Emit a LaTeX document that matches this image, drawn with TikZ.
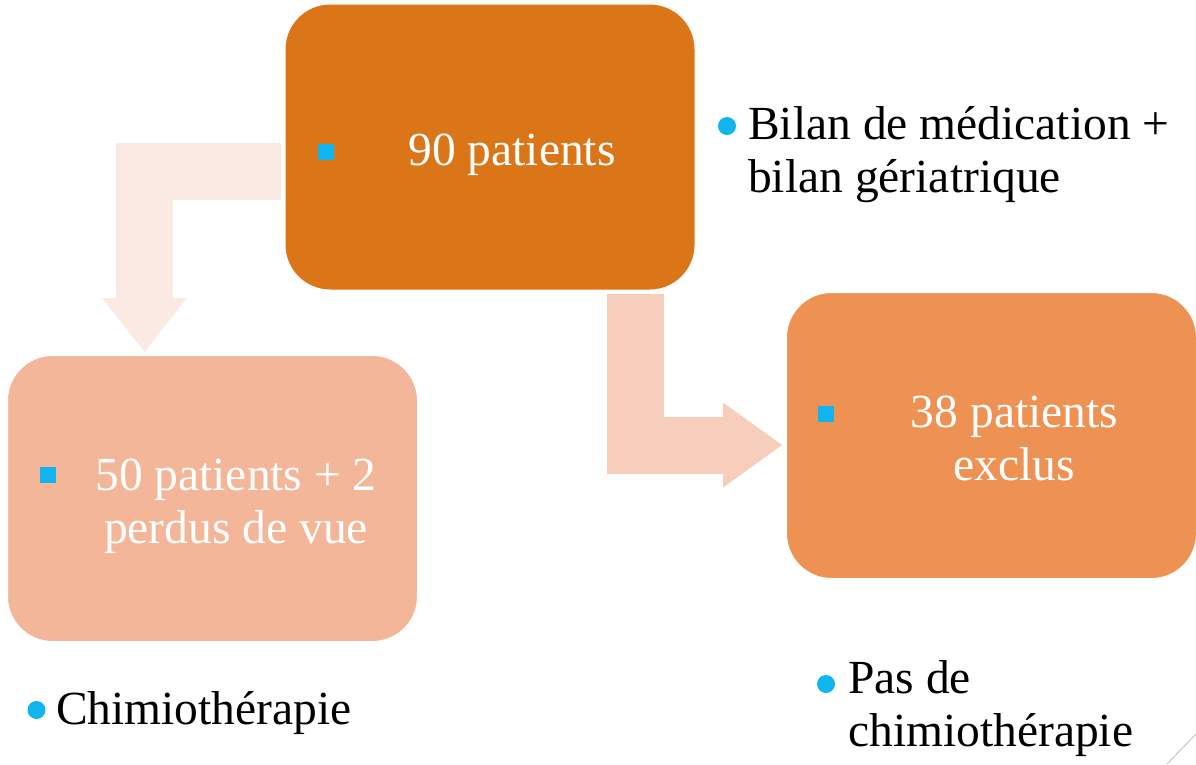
\documentclass[tikz,border=0pt]{standalone}
\usepackage{fontspec}
\setmainfont{Liberation Serif}
\usetikzlibrary{calc,arrows.meta}
\definecolor{topfill}{HTML}{DA7518}
\definecolor{leftfill}{HTML}{F4B699}
\definecolor{rightfill}{HTML}{EE9254}
\definecolor{paleleft}{HTML}{FBEAE3}
\definecolor{paleright}{HTML}{F7CDBC}
\definecolor{bullet}{HTML}{10B4EF}
\tikzset{
  box/.style={rectangle, rounded corners=45pt, draw=white, line width=1pt,
    minimum width=410pt, minimum height=286pt, inner sep=0pt},
  boxtext/.style={text=white, align=center, inner sep=0pt,
    font=\fontsize{47.5pt}{53pt}\selectfont},
  note/.style={text=black, align=left, inner sep=0pt,
    font=\fontsize{47.5pt}{53pt}\selectfont},
  sqbullet/.style={rectangle, fill=bullet, minimum size=16pt, inner sep=0pt},
  dotbullet/.style={circle, fill=bullet, minimum size=18pt, inner sep=0pt},
  blockarrow/.style={line width=57pt,
    -{Triangle[width=85pt,length=#1,line width=0pt]}},
  blockarrow/.default=56pt
}

\begin{document}
\begin{tikzpicture}[x=1pt, y=-1pt]
    \useasboundingbox (0,0) rectangle (1196,764);

    % the three boxes
    \node[box, fill=topfill] (top) at (490,147) {};
    \node[box, fill=leftfill] (chimio) at (212.5,498.5) {};
    \node[box, fill=rightfill] (exclus) at (991.5,435.5) {};

    % arrow ends
    \coordinate (la1) at ($(top.west)+(-4,24.5)$);
    \coordinate (la2) at ($(chimio.north)+(-68,-3)$);
    \coordinate (ra1) at ($(top.south)+(145,3)$);
    \coordinate (ra2) at ($(exclus.west)+(-4,9.5)$);

    % block arrows
    \draw[blockarrow=54pt, paleleft] (la1) -| (la2);
    \draw[blockarrow=59pt, paleright] (ra1) |- (ra2);

    % texts in the boxes
    \node[sqbullet] (topbul) at ($(top.west)+(41,5)$) {};
    \node[boxtext, anchor=base] (toptxt) at ($(top)+(22,18)$) {90 patients};
    \node[sqbullet] (chimiobul) at ($(chimio.west)+(40.7,-23.5)$) {};
    \node[boxtext, anchor=base] (chimiotxt) at ($(chimio)+(23.5,44.5)$)
      {50 patients + 2\\perdus de vue};
    \node[sqbullet] (exclusbul) at ($(exclus.west)+(40,-21.5)$) {};
    \node[boxtext, anchor=base] (exclustxt) at ($(exclus)+(23,44.5)$)
      {38 patients\\exclus};

    % notes beside the boxes
    \node[dotbullet] (bilanbul) at (727,126) {};
    \node[note, anchor=base west] (bilan) at (748,192)
      {Bilan de médication +\\bilan gériatrique};
    \node[dotbullet] (chimionotebul) at (36.5,710) {};
    \node[note, anchor=base west] (chimionote) at (56,724) {Chimiothérapie};
    \node[dotbullet] (pasbul) at (826,684) {};
    \node[note, anchor=base west] (pas) at (848,746)
      {Pas de\\chimiothérapie};

    % page corner
    \draw[gray!45, line width=1pt] (1167,764) -- (1197,733);
\end{tikzpicture}
\end{document}
